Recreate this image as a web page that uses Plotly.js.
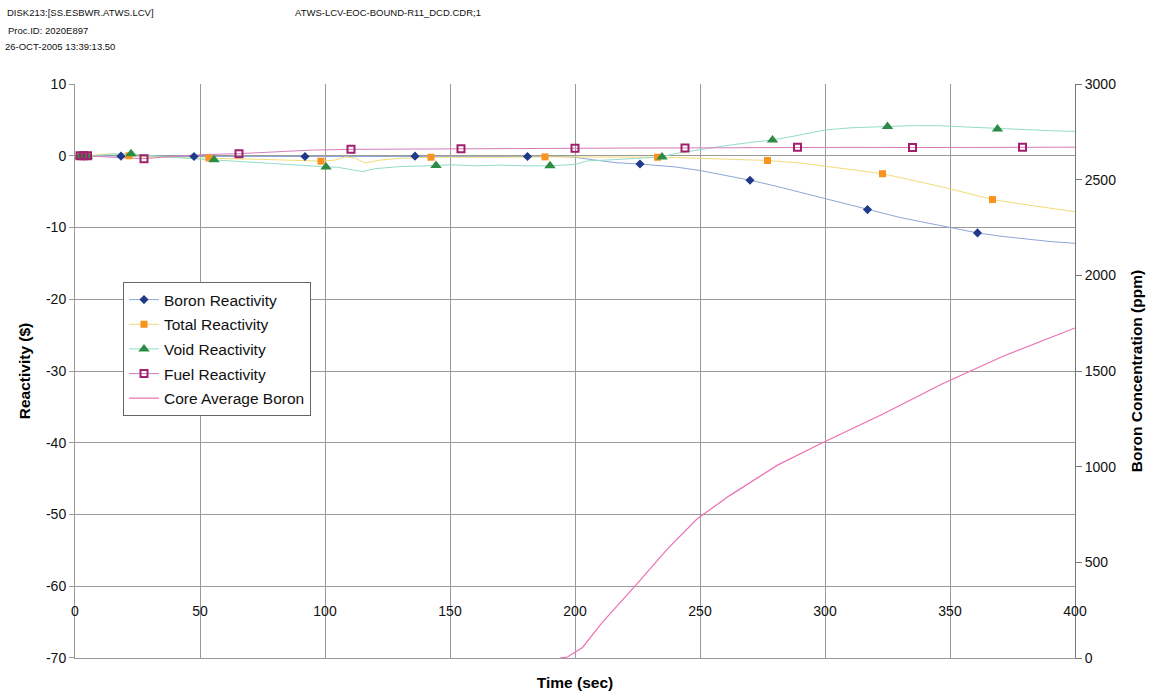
<!DOCTYPE html>
<html>
<head>
<meta charset="utf-8">
<script src="https://cdn.plot.ly/plotly-3.0.1.min.js"></script>
<style>html,body{margin:0;padding:0;background:#fff;}#chart{width:1151px;height:696px;}</style>
</head>
<body>
<div id="chart"></div>
<script>
// ---- Data ----
var boronT = [0, 18.4, 47.6, 92, 136, 181, 195, 200, 205, 210, 216, 226, 235, 240, 250, 260, 270, 280, 290, 300, 310, 317, 330, 340, 350, 361, 370, 380, 390, 400];
var boronV = [0, -0.05, -0.1, -0.1, -0.05, -0.1, -0.1, -0.2, -0.45, -0.7, -0.95, -1.15, -1.35, -1.55, -2.05, -2.7, -3.4, -4.2, -5.1, -6.0, -6.9, -7.5, -8.6, -9.3, -10.0, -10.75, -11.2, -11.6, -11.95, -12.2];
var boronMarkT = [2, 3.5, 5, 18.4, 47.6, 92, 136, 181, 226, 270, 317, 361];
var boronMarkV = [0, 0, 0, -0.05, -0.1, -0.1, -0.05, -0.1, -1.15, -3.4, -7.5, -10.75];

var totalT = [0, 2, 5, 10, 15, 21.6, 28, 35, 45, 53.6, 65, 75, 85, 98.4, 104, 108, 112, 116, 122, 130, 142.4, 150, 160, 170, 188, 200, 210, 220, 233, 245, 255, 265, 277, 290, 300, 310, 323, 330, 340, 350, 360, 367, 380, 390, 400];
var totalV = [0, 0, 0, 0.2, 0.25, 0, -0.15, -0.2, -0.25, -0.3, -0.4, -0.5, -0.6, -0.75, -0.6, -0.15, -0.3, -1.0, -0.6, -0.35, -0.2, -0.2, -0.3, -0.2, -0.15, -0.15, -0.2, -0.2, -0.2, -0.3, -0.4, -0.5, -0.65, -1.0, -1.4, -1.9, -2.5, -3.0, -3.8, -4.6, -5.5, -6.1, -6.8, -7.3, -7.8];
var totalMarkT = [2, 3.5, 5, 21.6, 53.6, 98.4, 142.4, 188, 233, 277, 323, 367];
var totalMarkV = [0, 0, 0, 0, -0.3, -0.75, -0.2, -0.15, -0.2, -0.65, -2.5, -6.1];

var voidT = [0, 2, 5, 10, 15, 22.4, 28, 35, 45, 55.6, 65, 75, 85, 100.4, 105, 110, 115, 120, 130, 144.4, 150, 160, 170, 180, 190, 200, 205, 215, 225, 234.8, 240, 250, 260, 270, 279, 290, 300, 310, 325, 335, 345, 355, 369, 380, 390, 400];
var voidV = [0, -0.1, -0.1, 0.05, 0.25, 0.3, 0.1, -0.1, -0.35, -0.55, -0.8, -1.0, -1.2, -1.55, -1.6, -1.9, -2.2, -1.8, -1.5, -1.35, -1.25, -1.4, -1.3, -1.4, -1.4, -1.2, -0.7, -0.55, -0.4, -0.15, 0.3, 0.9, 1.4, 1.85, 2.2, 2.9, 3.6, 3.9, 4.1, 4.2, 4.2, 4.05, 3.75, 3.6, 3.5, 3.4];
var voidMarkT = [2, 3.5, 5, 22.4, 55.6, 100.4, 144.4, 190, 234.8, 279, 325, 369];
var voidMarkV = [-0.1, -0.1, -0.1, 0.3, -0.55, -1.55, -1.35, -1.4, -0.15, 2.2, 4.1, 3.75];

var fuelT = [0, 2, 5, 10, 15, 20, 27.6, 35, 42, 50, 65.6, 80, 95, 110.4, 130, 154.4, 175, 200, 220, 244, 265, 289, 310, 335, 355, 379, 400];
var fuelV = [0, 0, 0, -0.1, -0.2, -0.3, -0.4, -0.2, 0, 0.15, 0.3, 0.55, 0.8, 0.9, 0.95, 1.0, 1.05, 1.07, 1.08, 1.1, 1.15, 1.2, 1.18, 1.15, 1.18, 1.2, 1.2];
var fuelMarkT = [2, 3.5, 5, 27.6, 65.6, 110.4, 154.4, 200, 244, 289, 335, 379];
var fuelMarkV = [0, 0, 0, -0.4, 0.3, 0.9, 1.0, 1.07, 1.1, 1.2, 1.15, 1.2];

var coreBoronT = [194, 197, 203, 211, 224, 237, 249, 262, 281, 299, 323, 347, 371, 397, 400];
var coreBoronPPM = [0, 5, 55, 187, 376, 570, 729, 850, 1008, 1125, 1274, 1433, 1576, 1709, 1725];

var xTicks = [0, 50, 100, 150, 200, 250, 300, 350, 400];
var yLeftTicks = [-70, -60, -50, -40, -30, -20, -10, 0, 10];
var yRightTicks = [0, 500, 1000, 1500, 2000, 2500, 3000];

var headerLeft = ["DISK213:[SS.ESBWR.ATWS.LCV]", "Proc.ID: 2020E897", "26-OCT-2005 13:39:13.50"];
var headerFile = "ATWS-LCV-EOC-BOUND-R11_DCD.CDR;1";

// ---- Styles ----
var FONT = "Arial, 'Liberation Sans', sans-serif";
var series = [
  {name: "Boron Reactivity", t: boronT, v: boronV, mt: boronMarkT, mv: boronMarkV,
   line: "#8ea6d8", marker: {symbol: "diamond", size: 7, color: "#1f3a8a"}},
  {name: "Total Reactivity", t: totalT, v: totalV, mt: totalMarkT, mv: totalMarkV,
   line: "#f1dc78", marker: {symbol: "square", size: 7, color: "#f7931e"}},
  {name: "Void Reactivity", t: voidT, v: voidV, mt: voidMarkT, mv: voidMarkV,
   line: "#93dccb", marker: {symbol: "triangle-up", size: 10, color: "#2e8b45"}},
  {name: "Fuel Reactivity", t: fuelT, v: fuelV, mt: fuelMarkT, mv: fuelMarkV,
   line: "#d67cbc", marker: {symbol: "square-open", size: 7, color: "#a0206e", line: {width: 2, color: "#a0206e"}}}
];

var traces = [];
series.forEach(function (s, i) {
  traces.push({x: s.t, y: s.v, mode: "lines", line: {color: s.line, width: 1}, showlegend: false,
    hoverinfo: "skip", legendgroup: "g" + i, xaxis: "x", yaxis: "y"});
});
series.forEach(function (s, i) {
  traces.push({x: s.mt, y: s.mv, mode: "markers", marker: s.marker, showlegend: false,
    legendgroup: "g" + i, xaxis: "x", yaxis: "y"});
});
// legend entries (line + marker sample)
series.forEach(function (s, i) {
  traces.push({x: [null], y: [null], mode: "lines+markers", name: s.name, line: {color: s.line, width: 1},
    marker: s.marker, showlegend: true, legendrank: i + 1, legendgroup: "g" + i, xaxis: "x", yaxis: "y"});
});
// Core average boron on right axis
traces.push({x: coreBoronT, y: coreBoronPPM, mode: "lines", name: "Core Average Boron",
  line: {color: "#ee6fb4", width: 1.2}, xaxis: "x2", yaxis: "y2", showlegend: true, legendrank: 5, legendgroup: "g4"});

var annotations = [];
var hdrY = [1.1237, 1.094, 1.0645];
var hdrX = [-0.07, -0.069, -0.072];
headerLeft.forEach(function (txt, i) {
  annotations.push({text: txt, xref: "paper", yref: "paper", x: hdrX[i], y: hdrY[i], xanchor: "left", yanchor: "middle",
    showarrow: false, font: {family: FONT, size: 9.5, color: "#111"}});
});
annotations.push({text: headerFile, xref: "paper", yref: "paper", x: 0.218, y: 1.1237, xanchor: "left", yanchor: "middle",
  showarrow: false, font: {family: FONT, size: 9.5, color: "#111"}});

var layout = {
  width: 1151, height: 696,
  margin: {l: 75, r: 76, t: 84, b: 38},
  paper_bgcolor: "#fff", plot_bgcolor: "#fff",
  font: {family: FONT, size: 14, color: "#111"},
  showlegend: true,
  legend: {x: 0.048, y: 0.655, xanchor: "left", yanchor: "top", bgcolor: "#fff", bordercolor: "#666", borderwidth: 1,
    font: {family: FONT, size: 15.5, color: "#111"}, traceorder: "grouped", tracegroupgap: 1.5,
    entrywidth: 205, entrywidthmode: "pixels"},
  xaxis: {range: [0, 400], tickvals: xTicks, ticktext: xTicks.map(String), showgrid: true, gridcolor: "#9a9a9a", gridwidth: 1,
    zeroline: false, showline: false, ticks: "", anchor: "free", position: 0.1,
    tickfont: {family: FONT, size: 14, color: "#111"}},
  xaxis2: {range: [0, 400], overlaying: "x", anchor: "y2", side: "bottom", showgrid: false, zeroline: false,
    showline: true, linecolor: "#999", showticklabels: false, ticks: "",
    title: {text: "Time (sec)", font: {family: FONT, size: 15.5, color: "#000", weight: "bold"}, standoff: 19}},
  yaxis: {range: [-70.01, 10.01], tickvals: yLeftTicks, ticktext: yLeftTicks.map(String), showgrid: true, gridcolor: "#9a9a9a",
    gridwidth: 1, zeroline: false, showline: true, linecolor: "#999", ticks: "outside", ticklen: 5, tickcolor: "#999",
    tickfont: {family: FONT, size: 14, color: "#111"},
    title: {text: "Reactivity ($)", font: {family: FONT, size: 15.5, color: "#000", weight: "bold"}, standoff: 11}},
  yaxis2: {range: [0, 3000], tickvals: yRightTicks, ticktext: yRightTicks.map(String), overlaying: "y", anchor: "x2", side: "right",
    showgrid: false, zeroline: false, showline: true, linecolor: "#777", ticks: "outside", ticklen: 6, tickcolor: "#777",
    tickfont: {family: FONT, size: 14, color: "#111"},
    title: {text: "Boron Concentration (ppm)", font: {family: FONT, size: 15.5, color: "#000", weight: "bold"}, standoff: 15}},
  annotations: annotations
};

Plotly.newPlot("chart", traces, layout, {displayModeBar: false, staticPlot: true});
</script>
</body>
</html>
